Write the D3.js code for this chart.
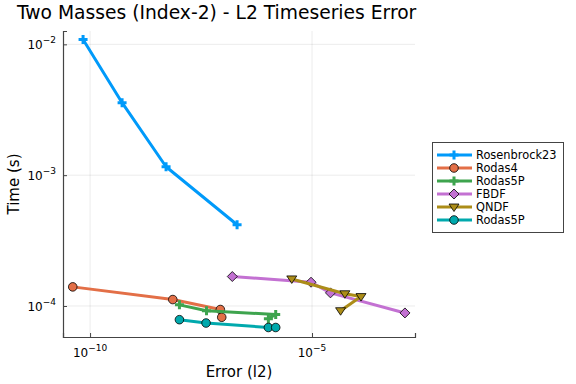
<!DOCTYPE html>
<html>
<head>
<meta charset="utf-8">
<script src="https://d3js.org/d3.v7.min.js"></script>
<style>
  body { margin: 0; background: #fff; }
  text { font-family: "DejaVu Sans", sans-serif; }
</style>
</head>
<body>
<div id="chart"></div>
<script>
// series names (legend order)
const names = ["Rosenbrock23", "Rodas4", "Rodas5P", "FBDF", "QNDF", "Rodas5P"];

// error (l2) and time (s) for each series
const errRosenbrock23 = [6.95e-11, 5.26e-10, 5.15e-9, 2.05e-7];
const timeRosenbrock23 = [1.09e-2, 3.58e-3, 1.16e-3, 4.18e-4];

const errRodas4 = [4.07e-11, 7.3e-9, 8.6e-8, 9.25e-8];
const timeRodas4 = [1.40e-4, 1.12e-4, 9.4e-5, 8.2e-5];

const errRodas5P = [1.03e-8, 4.2e-8, 1.52e-6, 1.04e-6];
const timeRodas5P = [1.02e-4, 9.2e-5, 8.6e-5, 8.0e-5];

const errFBDF = [1.6e-7, 9.5e-6, 2.6e-5, 1.24e-3];
const timeFBDF = [1.68e-4, 1.52e-4, 1.26e-4, 8.85e-5];

const errQNDF = [3.5e-6, 5.5e-5, 1.27e-4, 4.4e-5];
const timeQNDF = [1.61e-4, 1.24e-4, 1.18e-4, 9.2e-5];

const errRodas5P2 = [1.03e-8, 4.1e-8, 1.04e-6, 1.52e-6];
const timeRodas5P2 = [7.86e-5, 7.41e-5, 6.85e-5, 6.85e-5];

const xTicks = [1e-10, 1e-5];
const yTicks = [1e-4, 1e-3, 1e-2];

const colors = ["#009AFA", "#E36F47", "#3EA44E", "#C371D2", "#AC8D18", "#00A9AD"];
const shapes = ["cross", "circle", "cross", "diamond", "triangle", "circle"];

const series = [
  [errRosenbrock23, timeRosenbrock23],
  [errRodas4, timeRodas4],
  [errRodas5P, timeRodas5P],
  [errFBDF, timeFBDF],
  [errQNDF, timeQNDF],
  [errRodas5P2, timeRodas5P2]
].map((s, i) => ({
  name: names[i], color: colors[i], shape: shapes[i],
  pts: s[0].map((e, j) => ({ x: e, y: s[1][j] }))
}));

const W = 576, H = 384;
const plot = { left: 63, right: 415, top: 31, bottom: 337 };

const svg = d3.select("#chart").append("svg")
  .attr("width", W).attr("height", H);

const x = d3.scaleLog().domain([Math.pow(10, -10.61), Math.pow(10, -2.68)])
  .range([plot.left, plot.right]);
const y = d3.scaleLog().domain([Math.pow(10, -4.237), Math.pow(10, -1.898)])
  .range([plot.bottom, plot.top]);

// grid
svg.append("g").selectAll("line").data(xTicks).join("line")
  .attr("x1", d => x(d)).attr("x2", d => x(d))
  .attr("y1", plot.top).attr("y2", plot.bottom)
  .attr("stroke", "#000").attr("stroke-opacity", 0.1).attr("stroke-width", 0.8);
svg.append("g").selectAll("line").data(yTicks).join("line")
  .attr("y1", d => y(d)).attr("y2", d => y(d))
  .attr("x1", plot.left).attr("x2", plot.right)
  .attr("stroke", "#000").attr("stroke-opacity", 0.1).attr("stroke-width", 0.8);

// axes
const xAxis = d3.axisBottom(x).tickValues(xTicks).tickSize(-4).tickFormat("");
const yAxis = d3.axisLeft(y).tickValues(yTicks).tickSize(-4).tickFormat("");
svg.append("g").attr("transform", `translate(0,${plot.bottom})`).call(xAxis)
  .call(g => g.select(".domain").attr("stroke", "#444").attr("stroke-width", 1.2))
  .call(g => g.selectAll(".tick line").attr("stroke", "#444"));
svg.append("g").attr("transform", `translate(${plot.left},0)`).call(yAxis)
  .call(g => g.select(".domain").attr("stroke", "#444").attr("stroke-width", 1.2))
  .call(g => g.selectAll(".tick line").attr("stroke", "#444"));

function expLabel(sel, exp) {
  sel.append("tspan").text("10");
  sel.append("tspan").attr("dy", -6).attr("font-size", 9).text("\u2212" + exp);
}

xTicks.forEach(t => {
  const e = Math.round(-Math.log10(t));
  svg.append("text").attr("x", x(t)).attr("y", plot.bottom + 20)
    .attr("text-anchor", "middle").attr("font-size", 12)
    .call(s => expLabel(s, e));
});
yTicks.forEach(t => {
  const e = Math.round(-Math.log10(t));
  svg.append("text").attr("x", plot.left - 7).attr("y", y(t) + 5)
    .attr("text-anchor", "end").attr("font-size", 12)
    .call(s => expLabel(s, e));
});

// titles
svg.append("text").attr("x", 17).attr("y", 19).attr("font-size", 18.7)
  .text("Two Masses (Index-2) - L2 Timeseries Error");
svg.append("text").attr("x", (plot.left + plot.right) / 2).attr("y", 377)
  .attr("text-anchor", "middle").attr("font-size", 15).text("Error (l2)");
svg.append("text").attr("transform", `translate(19,${(plot.top + plot.bottom) / 2}) rotate(-90)`)
  .attr("text-anchor", "middle").attr("font-size", 15).text("Time (s)");

// markers
function drawMarker(g, shape, color, cx, cy) {
  if (shape === "circle") {
    g.append("circle").attr("cx", cx).attr("cy", cy).attr("r", 4.3)
      .attr("fill", color).attr("stroke", "#000").attr("stroke-width", 0.8);
  } else if (shape === "diamond") {
    const r = 5;
    g.append("path").attr("d", `M${cx},${cy - r}L${cx + r},${cy}L${cx},${cy + r}L${cx - r},${cy}Z`)
      .attr("fill", color).attr("stroke", "#000").attr("stroke-width", 0.8);
  } else if (shape === "triangle") {
    const r = 5;
    g.append("path").attr("d", `M${cx - r},${cy - r * 0.6}L${cx + r},${cy - r * 0.6}L${cx},${cy + r * 0.9}Z`)
      .attr("fill", color).attr("stroke", "#000").attr("stroke-width", 0.8);
  } else {
    const r = 4.5;
    g.append("path").attr("d", `M${cx - r},${cy}H${cx + r}M${cx},${cy - r}V${cy + r}`)
      .attr("stroke", color).attr("stroke-width", 3);
  }
}

const line = d3.line().x(d => x(d.x)).y(d => y(d.y));
const marks = svg.append("g");
series.forEach(s => {
  marks.append("path").datum(s.pts).attr("d", line)
    .attr("fill", "none").attr("stroke", s.color).attr("stroke-width", 3)
    .attr("stroke-linejoin", "round");
  s.pts.forEach(p => drawMarker(marks, s.shape, s.color, x(p.x), y(p.y)));
});

// legend
const lg = svg.append("g");
lg.append("rect").attr("x", 432.5).attr("y", 142.5).attr("width", 131).attr("height", 90)
  .attr("fill", "#fff").attr("stroke", "#444").attr("stroke-width", 1);
series.forEach((s, i) => {
  const ly = 155 + i * 13;
  lg.append("line").attr("x1", 437).attr("x2", 472).attr("y1", ly).attr("y2", ly)
    .attr("stroke", s.color).attr("stroke-width", 3);
  drawMarker(lg, s.shape, s.color, 454, ly);
  lg.append("text").attr("x", 476).attr("y", ly + 4).attr("font-size", 11.4).text(s.name);
});
</script>
</body>
</html>
